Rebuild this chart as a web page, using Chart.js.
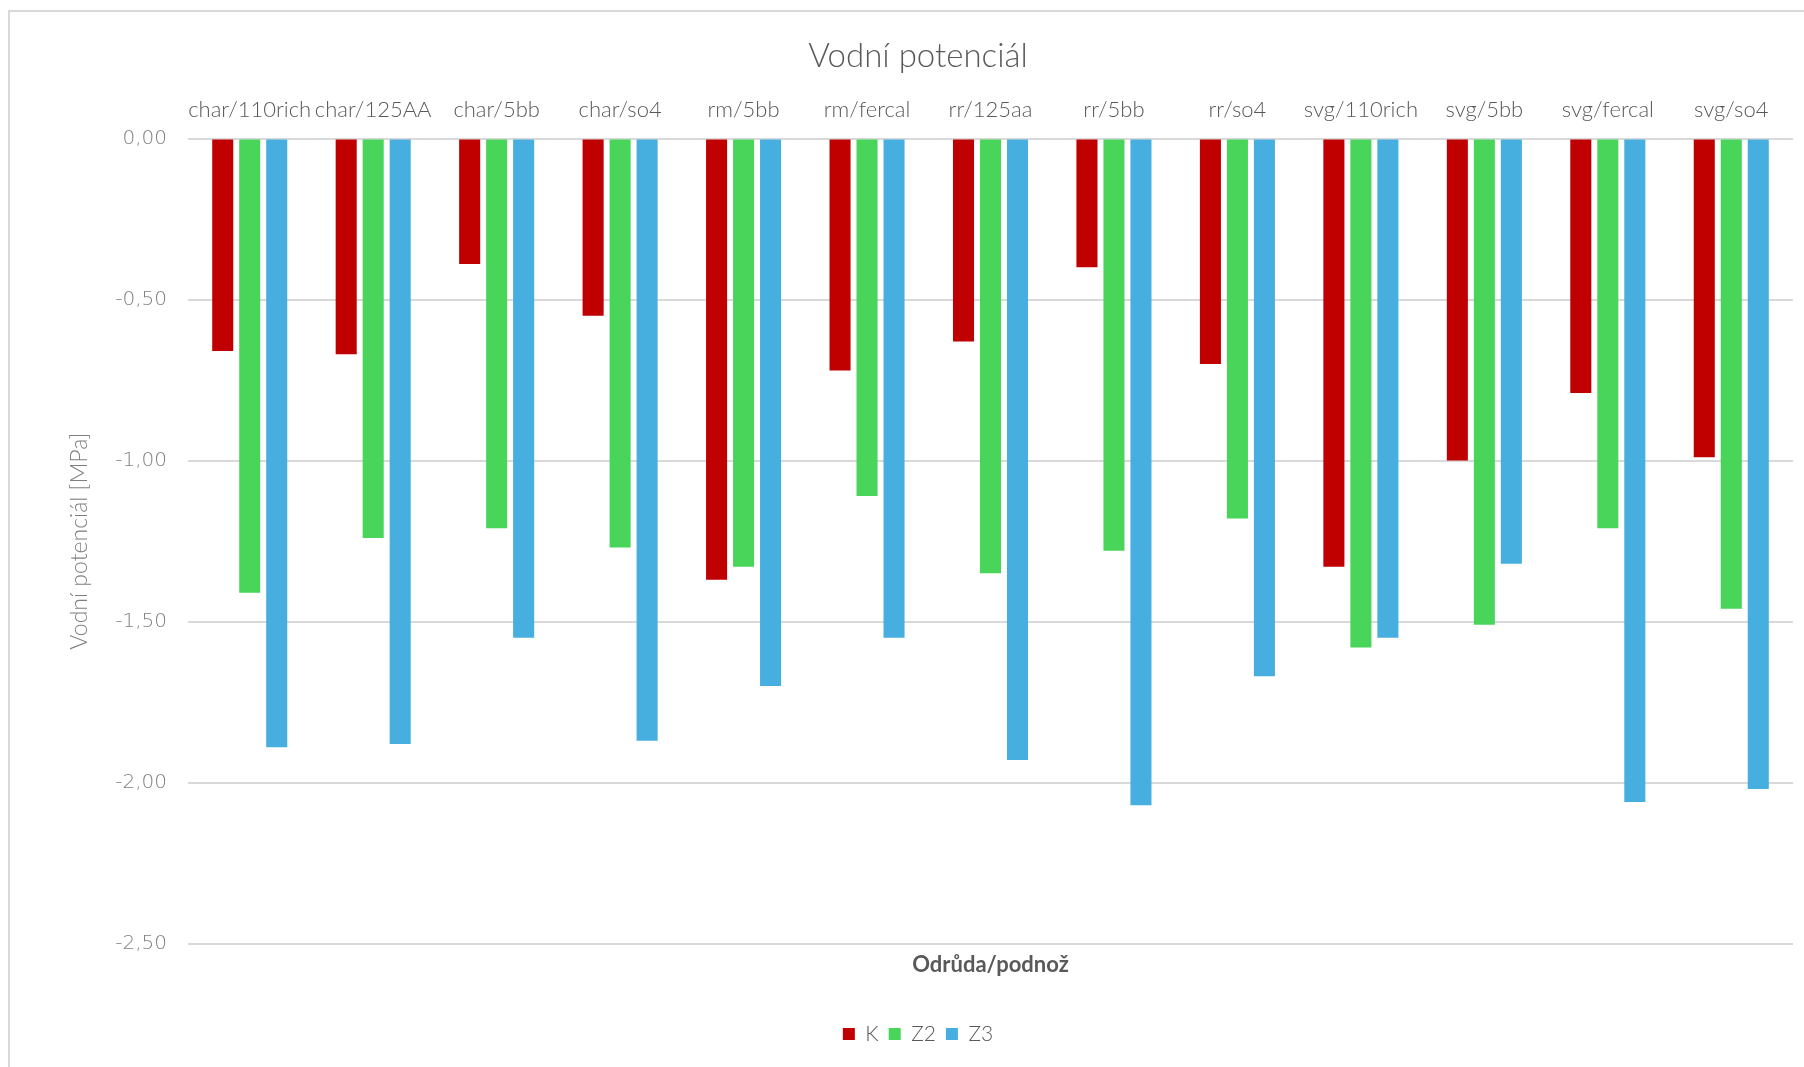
<!DOCTYPE html>
<html>
<head>
<meta charset="utf-8">
<script src="https://cdn.jsdelivr.net/npm/chart.js@4.4.1/dist/chart.umd.min.js"></script>
<style>
  html, body { margin: 0; padding: 0; background: #ffffff; overflow: hidden; }
  #frame { position: absolute; left: 8px; top: 10px; width: 1900px; height: 1200px; border: 2px solid #d9d9d9; box-sizing: border-box; }
  #wrap { position: absolute; left: 0; top: 0; width: 1840px; height: 1067px; }
</style>
</head>
<body>
<div id="frame"></div>
<div id="wrap"><canvas id="c" width="1840" height="1067"></canvas></div>
<script>
const categories = ['char/110rich', 'char/125AA', 'char/5bb', 'char/so4', 'rm/5bb', 'rm/fercal', 'rr/125aa', 'rr/5bb', 'rr/so4', 'svg/110rich', 'svg/5bb', 'svg/fercal', 'svg/so4'];
const seriesK  = [-0.66, -0.67, -0.39, -0.55, -1.37, -0.72, -0.63, -0.40, -0.70, -1.33, -1.00, -0.79, -0.99];
const seriesZ2 = [-1.41, -1.24, -1.21, -1.27, -1.33, -1.11, -1.35, -1.28, -1.18, -1.58, -1.51, -1.21, -1.46];
const seriesZ3 = [-1.89, -1.88, -1.55, -1.87, -1.70, -1.55, -1.93, -2.07, -1.67, -1.55, -1.32, -2.06, -2.02];
const seriesNames = ['K', 'Z2', 'Z3'];
const yTicks = [0, -0.5, -1.0, -1.5, -2.0, -2.5];

const colors = ['#C00000', '#48D55A', '#46AFDF'];
const allSeries = [seriesK, seriesZ2, seriesZ3];

new Chart(document.getElementById('c'), {
  type: 'bar',
  data: {
    labels: categories,
    datasets: allSeries.map((s, i) => ({
      label: seriesNames[i],
      data: s,
      backgroundColor: colors[i],
      borderWidth: 0,
      categoryPercentage: 0.656,
      barPercentage: 0.78,
      xAxisID: 'x',
      yAxisID: 'y'
    }))
  },
  options: {
    responsive: false,
    animation: false,
    layout: { padding: { left: 0, right: 4, top: 0, bottom: 12.6 } },
    plugins: {
      title: {
        display: true,
        text: 'Vodní potenciál',
        color: '#595959',
        font: { family: 'Lato', size: 33, weight: 300, lineHeight: 1.2 },
        padding: { top: 36.5, bottom: 6 }
      },
      legend: {
        display: true,
        position: 'bottom',
        labels: {
          color: '#595959',
          font: { family: 'Lato', size: 21, weight: 300 },
          boxWidth: 12, boxHeight: 12,
          padding: 10
        }
      },
      tooltip: { enabled: false }
    },
    scales: {
      x: {
        type: 'category',
        position: 'top',
        grid: { display: false, drawTicks: false },
        border: { display: false },
        ticks: {
          color: '#595959',
          font: { family: 'Lato', size: 22, weight: 300 },
          padding: 15,
          autoSkip: false,
          maxRotation: 0
        }
      },
      x2: {
        type: 'category',
        position: 'bottom',
        labels: categories,
        grid: { display: false, drawTicks: false },
        border: { display: false },
        ticks: { display: false },
        title: {
          display: true,
          text: 'Odrůda/podnož',
          color: '#595959',
          font: { family: 'Lato', size: 22, weight: 'bold' },
          padding: { top: 8, bottom: 35.3 }
        }
      },
      y: {
        min: -2.5,
        max: 0,
        afterBuildTicks: s => { s.ticks = yTicks.map(v => ({ value: v })); },
        grid: { color: '#d9d9d9', lineWidth: 2, drawTicks: false },
        border: { display: false },
        ticks: {
          color: '#7f7f7f',
          font: { family: 'DejaVu Sans', size: 20, weight: 200 },
          padding: 21,
          callback: v => Number(v).toFixed(2).replace('.', ',')
        },
        title: {
          display: true,
          text: 'Vodní potenciál [MPa]',
          color: '#7f7f7f',
          font: { family: 'Lato', size: 23, weight: 300 },
          padding: { top: 66, bottom: 10 }
        },
        afterFit: s => { s.width = 188; }
      },
      y2: {
        position: 'right',
        grid: { display: false, drawTicks: false },
        border: { display: false },
        ticks: { display: false },
        afterFit: s => { s.width = 43; }
      }
    }
  }
});
</script>
</body>
</html>
